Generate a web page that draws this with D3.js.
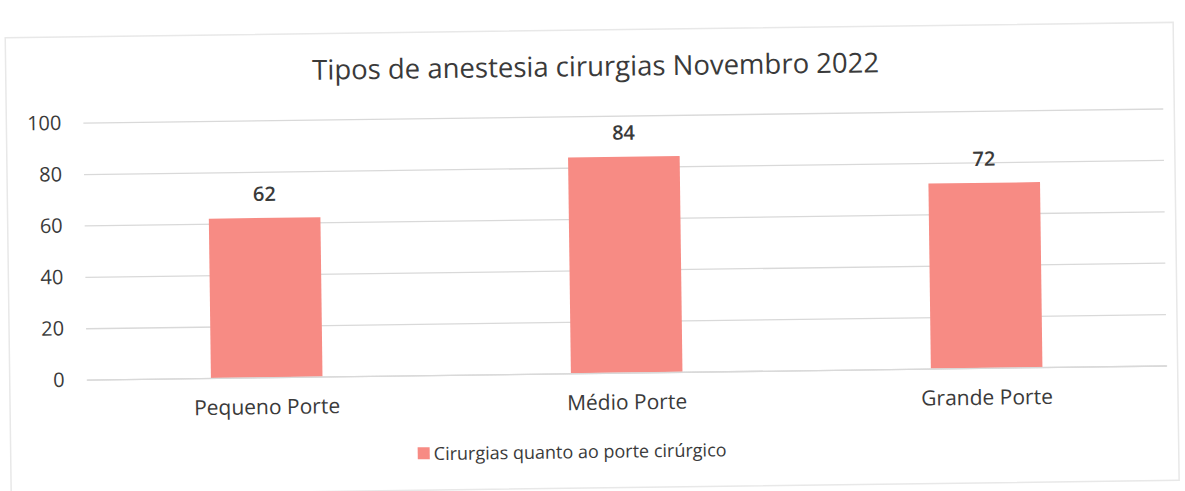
<!DOCTYPE html>
<html>
<head>
<meta charset="utf-8">
<script src="https://cdn.jsdelivr.net/npm/d3@7"></script>
<style>
  body { margin: 0; background: #fff; }
  text { font-family: "Open Sans", sans-serif; }
</style>
</head>
<body>
<svg id="canvas"></svg>
<script>
var W = 1185;
var H = 491;

var chartTitle = 'Tipos de anestesia cirurgias Novembro 2022'
var categories = ['Pequeno Porte', 'Médio Porte', 'Grande Porte']
var values = [62, 84, 72]
var yTicks = [0, 20, 40, 60, 80, 100]
var seriesName = 'Cirurgias quanto ao porte cirúrgico'

var barColour = '#f78b84'
var textColour = '#3a3a3a'
var gridColour = '#d9d9d9'

var svg = d3.select('#canvas')
  .attr('width', W)
  .attr('height', H)

svg.append('rect')
  .attr('width', W)
  .attr('height', H)
  .attr('fill', '#fff')

// the scan is a little tilted
var chart = svg.append('g')
  .attr('transform', 'rotate(-0.75 592 245)')

chart.append('rect')
  .attr('x', 8)
  .attr('y', 30)
  .attr('width', 1168)
  .attr('height', 458)
  .attr('fill', 'none')
  .attr('stroke', '#e8e8e8')
  .attr('stroke-width', 1.5)

var x = d3.scaleBand()
  .domain(categories)
  .range([85, 1165])
  .paddingInner(0.69)
  .paddingOuter(0.345)

var y = d3.scaleLinear()
  .domain([0, 100])
  .range([373, 116])

chart.append('text')
  .attr('x', 598)
  .attr('y', 76)
  .attr('text-anchor', 'middle')
  .attr('fill', textColour)
  .style('font-size', '27.5px')
  .text(chartTitle)

// gridlines + y labels
var yAxis = d3.axisLeft(y)
  .tickValues(yTicks)
  .tickSize(-(1165 - 85))
  .tickPadding(22)

var gy = chart.append('g')
  .attr('transform', 'translate(85,0)')
  .call(yAxis)
gy.select('.domain').remove()
gy.selectAll('.tick line')
  .attr('stroke', gridColour)
  .attr('stroke-width', 1.3)
gy.selectAll('.tick text')
  .attr('fill', textColour)
  .style('font-size', '20px')
  .style('font-family', '"Open Sans", sans-serif')

chart.selectAll('.bar')
  .data(values)
  .join('rect')
  .attr('class', 'bar')
  .attr('x', (d, i) => x(categories[i]))
  .attr('y', d => y(d))
  .attr('width', x.bandwidth())
  .attr('height', d => y(0) - y(d))
  .attr('fill', barColour)

chart.selectAll('.val')
  .data(values)
  .join('text')
  .attr('class', 'val')
  .attr('x', (d, i) => x(categories[i]) + x.bandwidth() / 2)
  .attr('y', d => y(d) - 17)
  .attr('text-anchor', 'middle')
  .attr('fill', textColour)
  .style('font-size', '20px')
  .style('font-weight', 600)
  .text(d => d)

var xAxis = d3.axisBottom(x).tickSize(0).tickPadding(22)
var gx = chart.append('g')
  .attr('transform', 'translate(0,' + y(0) + ')')
  .call(xAxis)
gx.select('.domain')
  .attr('stroke', gridColour)
  .attr('stroke-width', 1.3)
gx.selectAll('.tick text')
  .attr('fill', textColour)
  .style('font-size', '21px')
  .style('font-family', '"Open Sans", sans-serif')

// legend
var legend = chart.append('g')
  .attr('transform', 'translate(415,445)')
legend.append('rect')
  .attr('width', 12)
  .attr('height', 12)
  .attr('fill', barColour)
legend.append('text')
  .attr('x', 16)
  .attr('y', 13)
  .attr('fill', textColour)
  .style('font-size', '18px')
  .text(seriesName)
</script>
</body>
</html>
